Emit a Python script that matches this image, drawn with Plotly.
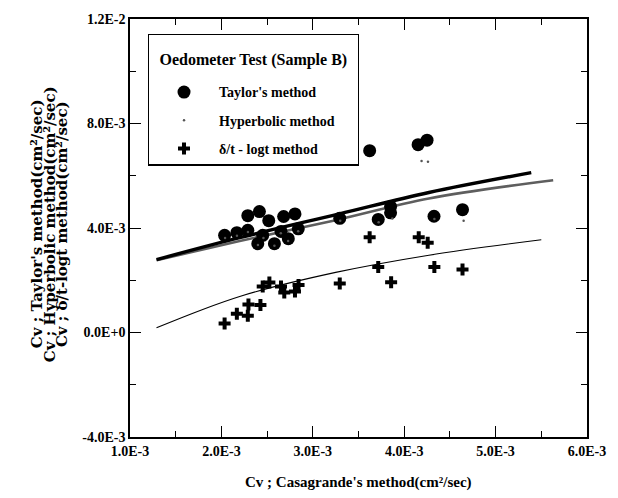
import plotly.graph_objects as go

# Casagrande Cv (x) against Taylor Cv (y), cm^2/sec
casa_taylor = [2.035e-3, 2.169e-3, 2.289e-3, 2.289e-3, 2.416e-3, 2.398e-3, 2.452e-3,
               2.518e-3, 2.580e-3, 2.652e-3, 2.681e-3, 2.732e-3, 2.805e-3, 2.841e-3,
               3.295e-3, 3.622e-3, 3.716e-3, 3.851e-3, 3.851e-3, 4.152e-3, 4.250e-3,
               4.326e-3, 4.638e-3]
cv_taylor = [3.72e-3, 3.82e-3, 4.47e-3, 3.91e-3, 4.63e-3, 3.40e-3, 3.72e-3,
             4.28e-3, 3.40e-3, 3.87e-3, 4.44e-3, 3.59e-3, 4.54e-3, 3.97e-3,
             4.37e-3, 6.96e-3, 4.33e-3, 4.82e-3, 4.58e-3, 7.19e-3, 7.36e-3,
             4.45e-3, 4.70e-3]

# Casagrande Cv against hyperbolic-method Cv
casa_hyper = [2.04e-3, 2.17e-3, 2.29e-3, 2.40e-3, 2.46e-3, 2.58e-3, 2.65e-3,
              2.73e-3, 2.84e-3, 3.30e-3, 3.72e-3, 3.87e-3, 4.19e-3, 4.26e-3,
              4.33e-3, 4.65e-3]
cv_hyper = [3.62e-3, 3.70e-3, 3.85e-3, 3.35e-3, 3.62e-3, 3.32e-3, 3.80e-3,
            3.50e-3, 3.88e-3, 4.28e-3, 4.22e-3, 4.36e-3, 6.56e-3, 6.54e-3,
            4.34e-3, 4.28e-3]

# Casagrande Cv against delta/t - log t method Cv
casa_dt = [2.035e-3, 2.169e-3, 2.289e-3, 2.296e-3, 2.427e-3, 2.452e-3, 2.525e-3,
           2.652e-3, 2.688e-3, 2.805e-3, 2.844e-3, 3.295e-3, 3.622e-3, 3.716e-3,
           3.857e-3, 4.159e-3, 4.257e-3, 4.330e-3, 4.638e-3]
cv_dt = [0.34e-3, 0.72e-3, 0.64e-3, 1.07e-3, 1.05e-3, 1.76e-3, 1.91e-3,
         1.76e-3, 1.53e-3, 1.57e-3, 1.82e-3, 1.88e-3, 3.65e-3, 2.51e-3,
         1.92e-3, 3.65e-3, 3.44e-3, 2.51e-3, 2.41e-3]

# Fitted trend curves
fit_taylor_x = [1.29e-3, 2.20e-3, 3.29e-3, 4.27e-3, 5.39e-3]
fit_taylor_y = [2.79e-3, 3.63e-3, 4.54e-3, 5.36e-3, 6.12e-3]
fit_hyper_x = [1.29e-3, 2.20e-3, 3.25e-3, 4.27e-3, 5.63e-3]
fit_hyper_y = [2.77e-3, 3.50e-3, 4.30e-3, 5.13e-3, 5.83e-3]
fit_dt_x = [1.29e-3, 2.20e-3, 3.25e-3, 4.27e-3, 5.50e-3]
fit_dt_y = [0.18e-3, 1.38e-3, 2.30e-3, 2.96e-3, 3.55e-3]

x_tickvals = [1.0e-3, 2.0e-3, 3.0e-3, 4.0e-3, 5.0e-3, 6.0e-3]
x_ticktext = ["1.0E-3", "2.0E-3", "3.0E-3", "4.0E-3", "5.0E-3", "6.0E-3"]
y_tickvals = [-4.0e-3, 0.0, 4.0e-3, 8.0e-3, 1.2e-2]
y_ticktext = ["-4.0E-3", "0.0E+0", "4.0E-3", "8.0E-3", "1.2E-2"]

SERIF = "Liberation Serif"
WIDE_SERIF = "DejaVu Serif"

fig = go.Figure()

fig.add_trace(go.Scatter(x=fit_hyper_x, y=fit_hyper_y, mode="lines",
                         line=dict(color="#5e5e5e", width=2.6, shape="spline"),
                         showlegend=False, hoverinfo="skip"))
fig.add_trace(go.Scatter(x=fit_taylor_x, y=fit_taylor_y, mode="lines",
                         line=dict(color="black", width=3.4, shape="spline"),
                         showlegend=False, hoverinfo="skip"))
fig.add_trace(go.Scatter(x=fit_dt_x, y=fit_dt_y, mode="lines",
                         line=dict(color="black", width=1.1, shape="spline"),
                         showlegend=False, hoverinfo="skip"))

fig.add_trace(go.Scatter(x=casa_taylor, y=cv_taylor, mode="markers",
                         name="Taylor's method", legendgroup="taylor",
                         marker=dict(symbol="circle", size=13, color="black")))
fig.add_trace(go.Scatter(x=casa_hyper, y=cv_hyper, mode="markers",
                         name="Hyperbolic method", legendgroup="hyper",
                         marker=dict(symbol="circle", size=2.5, color="#555555")))
fig.add_trace(go.Scatter(x=casa_dt, y=cv_dt, mode="markers",
                         name="\u03b4/t - logt method", legendgroup="dt",
                         marker=dict(symbol="cross", size=10, color="black")))

axis_common = dict(
    showline=True, linecolor="black", linewidth=1.5, mirror="ticks",
    ticks="inside", ticklen=11, tickwidth=1.3, tickcolor="black",
    showgrid=False, zeroline=False,
    tickfont=dict(family=SERIF, size=14, color="black", weight="bold"),
)

fig.update_xaxes(range=[1.0e-3, 6.0e-3], tickvals=x_tickvals, ticktext=x_ticktext,
                 minor=dict(ticks="inside", ticklen=6, tickwidth=1.2, tickcolor="black",
                            dtick=0.5e-3, tick0=1.0e-3, showgrid=False),
                 **axis_common)
fig.update_yaxes(range=[-4.0e-3, 1.2e-2], tickvals=y_tickvals, ticktext=y_ticktext,
                 minor=dict(ticks="inside", ticklen=6, tickwidth=1.2, tickcolor="black",
                            dtick=2.0e-3, tick0=0.0, showgrid=False),
                 **axis_common)

# Stacked y-axis titles, one rotated line per method
y_titles = ["Cv ; Taylor's method(cm\u00b2/sec)",
            "Cv ; Hyperbolic method(cm\u00b2/sec)",
            "Cv ; \u03b4/t-logt method(cm\u00b2/sec)"]
y_title_font = dict(family=WIDE_SERIF, size=15, color="black", weight="bold")
for i, txt in enumerate(y_titles):
    fig.add_annotation(text=txt, xref="paper", yref="paper",
                       x=(36 + 13 * i - 130) / 459, y=0.51,
                       xanchor="center", yanchor="middle",
                       textangle=-90, showarrow=False, font=y_title_font)
fig.add_annotation(text="Cv ; Casagrande's method(cm\u00b2/sec)", xref="paper", yref="paper",
                   x=0.5, y=-0.109, xanchor="center", yanchor="middle", showarrow=False,
                   font=dict(family=SERIF, size=15, color="black", weight="bold"))

legend_title = ("<span style='baseline-shift:-9px'>"
                "\u00a0\u00a0Oedometer Test (Sample B)\u00a0\u00a0</span><br> ")

fig.update_layout(
    width=618, height=498,
    margin=dict(l=130, r=29, t=15, b=61),
    paper_bgcolor="white", plot_bgcolor="white",
    legend=dict(
        x=0.039, y=0.965, xanchor="left", yanchor="top",
        bgcolor="white", bordercolor="black", borderwidth=1.2,
        font=dict(family=SERIF, size=14, color="black", weight="bold"),
        title=dict(text=legend_title, side="top center",
                   font=dict(family=SERIF, size=16, color="black", weight="bold")),
        itemsizing="trace", itemwidth=60, tracegroupgap=7,
    ),
)

fig.write_html("out.html")
